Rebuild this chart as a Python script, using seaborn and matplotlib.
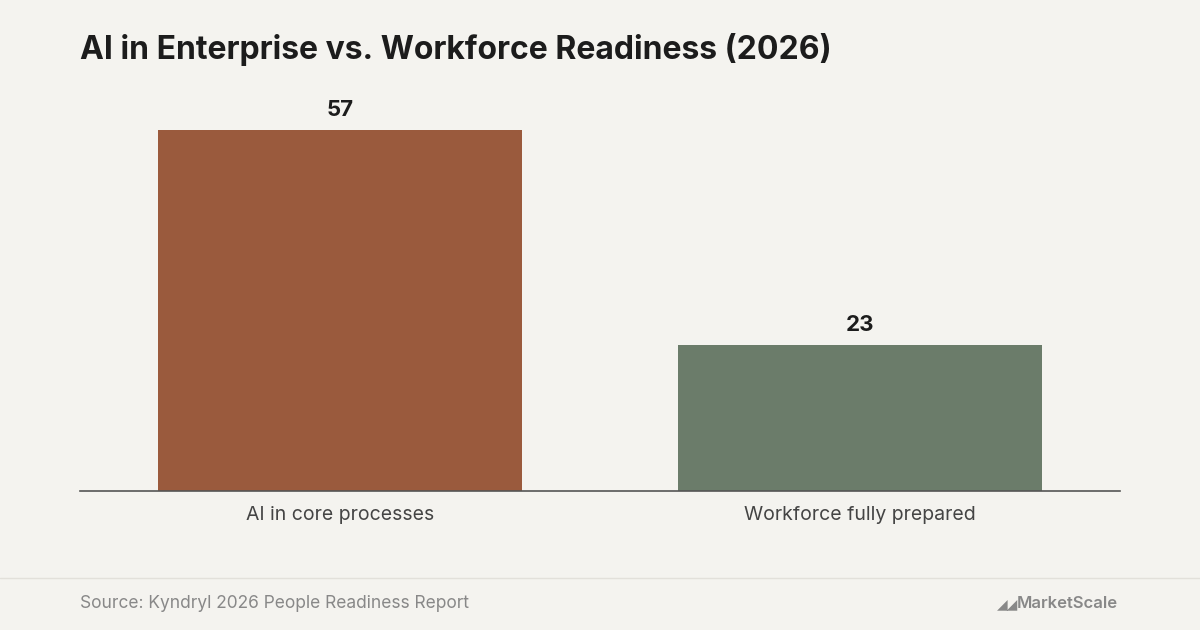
import matplotlib
matplotlib.use("Agg")
import matplotlib.pyplot as plt
import seaborn as sns
import pandas as pd

categories = ["AI in core processes", "Workforce fully prepared"]
values = [57, 23]
colors = ["#9a5a3d", "#6b7c6a"]

BG = "#f4f3ef"

sns.set_theme(style="white")
plt.rcParams["font.family"] = ["Inter", "DejaVu Sans"]

fig = plt.figure(figsize=(12, 6.3), dpi=100, facecolor=BG)
ax = fig.add_axes([80 / 1200, 1 - 491 / 630, 1040 / 1200, 391 / 630])
ax.set_facecolor(BG)

df = pd.DataFrame({"cat": categories, "val": values})
sns.barplot(data=df, x="cat", y="val", hue="cat", palette=colors, width=0.7,
            legend=False, ax=ax, saturation=1, linewidth=0)

ax.set_xlim(-0.5, 1.5)
ax.set_ylim(0, 57 / 361 * 391)
for i, v in enumerate(values):
    ax.text(i, v + 1.6, str(v), ha="center", va="bottom", fontsize=16,
            fontweight="bold", color="#1c1c1c")

for s in ["top", "right", "left"]:
    ax.spines[s].set_visible(False)
ax.spines["bottom"].set_color("#555555")
ax.spines["bottom"].set_linewidth(1.2)
ax.set_yticks([])
ax.set_xlabel("")
ax.set_ylabel("")
ax.tick_params(axis="x", length=0, pad=11, labelsize=14, labelcolor="#444444")

fig.text(80 / 1200, 1 - 50 / 630, "AI in Enterprise vs. Workforce Readiness (2026)",
         fontsize=23, fontweight="bold", color="#1c1c1c", va="center")

fig.add_artist(plt.Line2D([0, 1], [1 - 578 / 630] * 2, color="#e2e0da", lw=1))
fig.text(80 / 1200, 1 - 603 / 630, "Source: Kyndryl 2026 People Readiness Report",
         fontsize=12.5, color="#888888", va="center")
fig.text(1118 / 1200, 1 - 604 / 630, "MarketScale", fontsize=12,
         color="#888888", va="center", ha="right", fontweight="semibold")
fig.text(1018 / 1200, 1 - 604 / 630, "◢◢", fontsize=10, color="#888888",
         va="center", ha="right")

fig.savefig("out.png", dpi=100, facecolor=BG)
